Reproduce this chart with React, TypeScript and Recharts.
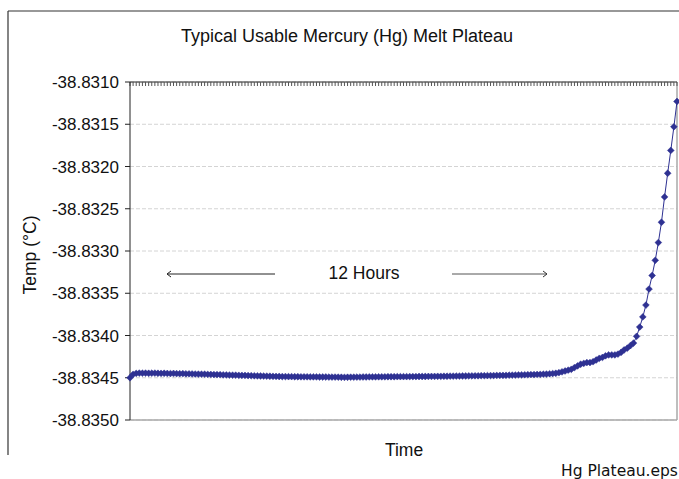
import { LineChart, Line, XAxis, YAxis, CartesianGrid, ReferenceLine } from 'recharts';

// melt plateau readings, one per sample (°C)
const plateauTemps = [
  -38.8345, -38.83446, -38.834448, -38.834445, -38.834446, -38.834445, -38.834447, -38.834446, -38.834445, -38.834447,
  -38.834448, -38.834447, -38.834449, -38.83445, -38.834449, -38.834451, -38.834452, -38.834451, -38.834453, -38.834454,
  -38.834455, -38.834456, -38.834457, -38.834458, -38.834458, -38.83446, -38.834461, -38.834462, -38.834463, -38.834464,
  -38.834466, -38.834467, -38.834468, -38.834469, -38.83447, -38.834471, -38.834472, -38.834473, -38.834474, -38.834476,
  -38.834477, -38.834478, -38.834479, -38.83448, -38.834481, -38.834482, -38.834483, -38.834484, -38.834485, -38.834486,
  -38.834486, -38.834487, -38.834487, -38.834488, -38.834488, -38.834489, -38.834489, -38.834489, -38.83449, -38.83449,
  -38.83449, -38.834491, -38.834491, -38.834491, -38.834492, -38.834492, -38.834492, -38.834493, -38.834494, -38.834495,
  -38.834494, -38.834493, -38.834493, -38.834492, -38.834492, -38.834491, -38.834491, -38.83449, -38.83449, -38.83449,
  -38.834489, -38.834489, -38.834489, -38.834488, -38.834488, -38.834488, -38.834487, -38.834487, -38.834487, -38.834487,
  -38.834486, -38.834486, -38.834486, -38.834485, -38.834485, -38.834485, -38.834484, -38.834484, -38.834484, -38.834483,
  -38.834483, -38.834482, -38.834482, -38.834481, -38.834481, -38.83448, -38.83448, -38.834479, -38.834479, -38.834478,
  -38.834478, -38.834477, -38.834477, -38.834476, -38.834476, -38.834475, -38.834474, -38.834474, -38.834473, -38.834472,
  -38.834472, -38.834471, -38.83447, -38.834469, -38.834468, -38.834467, -38.834466, -38.834465, -38.834464, -38.834463,
  -38.834462, -38.834461, -38.83446, -38.834458, -38.834456, -38.834453, -38.83445, -38.834447,
];

// end of plateau, melt finishing
const riseTemps = [
  -38.83444, -38.83443, -38.83442, -38.83441, -38.8344, -38.83438, -38.83436, -38.83434, -38.83433, -38.83432,
  -38.83432, -38.83431, -38.83429, -38.83427, -38.83426, -38.83424, -38.83423, -38.83423, -38.83423, -38.83422,
  -38.8342, -38.83417, -38.83415, -38.83412,
  -38.83409, -38.83401, -38.8339, -38.83378, -38.83364, -38.83345, -38.83329, -38.83311, -38.8329, -38.83266,
  -38.83236, -38.83208, -38.83181, -38.83153, -38.83123,
];

const yTicks = [-38.835, -38.8345, -38.834, -38.8335, -38.833, -38.8325, -38.832, -38.8315, -38.831];

const temps = [...plateauTemps, ...riseTemps];
const data = temps.map((temp, i) => ({ sample: i + 1, temp }));

const SERIES_COLOR = '#2E3192';
const FONT = 'Arial, "Liberation Sans", sans-serif';

const Diamond = (props: any) => {
  const { cx, cy } = props;
  if (cx == null || cy == null) return null;
  const r = 3.4;
  return (
    <path
      d={`M${cx},${cy - r}L${cx + r},${cy}L${cx},${cy + r}L${cx - r},${cy}Z`}
      fill={SERIES_COLOR}
      stroke={SERIES_COLOR}
      strokeWidth={0.5}
    />
  );
};

export default function App() {
  return (
    <div style={{ position: 'fixed', left: 0, top: 0, width: 679, height: 479, background: '#fff', overflow: 'hidden' }}>
      <LineChart width={679} height={479} data={data} margin={{ top: 82, right: 2, bottom: 59, left: 0 }}>
        <CartesianGrid vertical={false} stroke="#d4d4d4" strokeDasharray="4 2" />
        <XAxis
          dataKey="sample"
          orientation="top"
          height={1}
          mirror
          interval={0}
          tickFormatter={() => ''}
          tick={{ fontSize: 1 }}
          tickSize={4}
          tickLine={{ stroke: '#555' }}
          axisLine={{ stroke: '#222' }}
        />
        <YAxis
          type="number"
          width={130}
          domain={[-38.835, -38.831]}
          ticks={yTicks}
          allowDataOverflow
          interval={0}
          tickSize={5}
          tickMargin={6}
          tickFormatter={(v: number) => v.toFixed(4)}
          tick={{ fill: '#111', fontSize: 17, fontFamily: FONT }}
          tickLine={{ stroke: '#222' }}
          axisLine={{ stroke: '#222' }}
        />
        <ReferenceLine y={-38.835} stroke="#a8a8a8" strokeWidth={1.5} />
        <ReferenceLine x={data[data.length - 1].sample} stroke="#a8a8a8" strokeWidth={1.5} />
        <Line
          type="linear"
          dataKey="temp"
          stroke={SERIES_COLOR}
          strokeWidth={1}
          dot={<Diamond />}
          activeDot={false}
          isAnimationActive={false}
        />
      </LineChart>
      <svg
        width={679}
        height={479}
        style={{ position: 'absolute', left: 0, top: 0, pointerEvents: 'none' }}
        fontFamily={FONT}
      >
        {/* page frame */}
        <line x1={8} y1={11} x2={679} y2={11} stroke="#333" strokeWidth={1.2} />
        <line x1={8} y1={11} x2={8} y2={455} stroke="#333" strokeWidth={1.2} />
        <text x={347} y={42} textAnchor="middle" fontSize={18} fill="#111">
          Typical Usable Mercury (Hg) Melt Plateau
        </text>
        <text x={404} y={456} textAnchor="middle" fontSize={17.5} fill="#111">Time</text>
        <text
          x={0}
          y={0}
          transform="translate(36,255) rotate(-90)"
          textAnchor="middle"
          fontSize={17.5}
          fill="#111"
        >
          Temp (°C)
        </text>
        <text x={364} y={279} textAnchor="middle" fontSize={17.5} fill="#111">12 Hours</text>
        <line x1={167} y1={274} x2={275} y2={274} stroke="#222" strokeWidth={1} />
        <polyline points="171,271 167,274 171,277" fill="none" stroke="#222" strokeWidth={1} />
        <line x1={452} y1={274} x2={547} y2={274} stroke="#555" strokeWidth={1} />
        <polyline points="543,271 547,274 543,277" fill="none" stroke="#333" strokeWidth={1} />
        <text x={561} y={476} fontSize={15.5} fontFamily='"DejaVu Sans", Verdana, sans-serif' fill="#111">
          Hg Plateau.eps
        </text>
      </svg>
    </div>
  );
}
